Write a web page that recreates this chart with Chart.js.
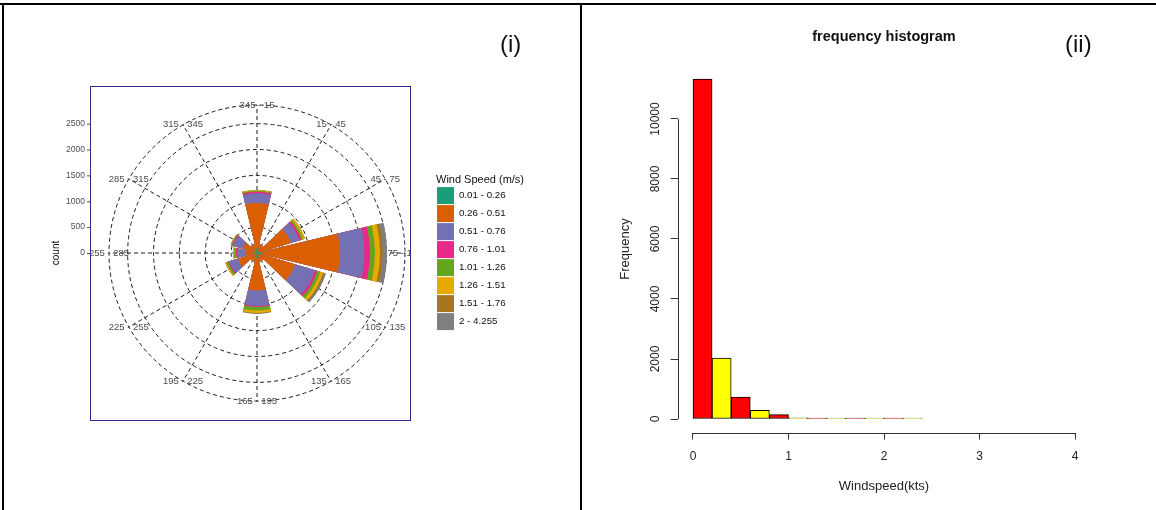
<!DOCTYPE html>
<html>
<head>
<meta charset="utf-8">
<title>wind rose and histogram</title>
<script src="https://cdn.jsdelivr.net/npm/chart.js@4.4.1/dist/chart.umd.min.js"></script>
<style>
  body { margin: 0; background: #fff; }
  #wrap { position: relative; width: 1156px; height: 510px; overflow: hidden; font-family: "Liberation Sans", Arial, sans-serif; }
  canvas { position: absolute; left: 0; top: 0; }
  .rule { position: absolute; background: #000; }
  .tag { position: absolute; font-size: 24px; line-height: 24px; color: #111; }
</style>
</head>
<body>
<div id="wrap">
  <canvas id="rose" width="1156" height="510"></canvas>
  <canvas id="hist" width="1156" height="510"></canvas>
  <div class="rule" style="left:0;top:3px;width:1156px;height:2px"></div>
  <div class="rule" style="left:2px;top:3px;width:2px;height:507px"></div>
  <div class="rule" style="left:580px;top:3px;width:2px;height:507px"></div>
  <span class="tag" style="left:500px;top:32px">(i)</span>
  <span class="tag" style="left:1065px;top:32px">(ii)</span>
</div>
<script>
const FONT = '"Liberation Sans", Arial, sans-serif';

// ---- wind rose (i) ----
const directions = ['345 - 15', '15 - 45', '45 - 75', '75 - 105', '105 - 135', '135 - 165',
  '165 - 195', '195 - 225', '225 - 255', '255 - 285', '285 - 315', '315 - 345'];
const speedBins = ['0.01 - 0.26', '0.26 - 0.51', '0.51 - 0.76', '0.76 - 1.01',
  '1.01 - 1.26', '1.26 - 1.51', '1.51 - 1.76', '2 - 4.255'];
const speedColors = ['#1b9e77', '#d95f02', '#7570b3', '#e7298a', '#66a61e', '#e6ab02', '#a6761d', '#7f7f7f'];

// counts per speed class, one value per direction (N first, clockwise)
const speed1 = [90, 30, 68, 100, 77, 30, 90, 30, 40, 70, 40, 30];
const speed2 = [876, 144, 608, 1504, 686, 144, 635, 144, 346, 162, 250, 144];
const speed3 = [188, 0, 174, 473, 406, 0, 299, 0, 174, 154, 193, 0];
const speed4 = [31, 0, 39, 107, 48, 0, 19, 0, 20, 20, 19, 0];
const speed5 = [17, 0, 39, 96, 58, 0, 68, 0, 38, 38, 20, 0];
const speed6 = [15, 0, 38, 97, 58, 0, 48, 0, 20, 20, 9, 0];
const speed7 = [0, 0, 0, 52, 20, 0, 10, 0, 0, 0, 0, 0];
const speed8 = [0, 0, 0, 83, 38, 0, 10, 0, 0, 0, 0, 0];
const speedCounts = [speed1, speed2, speed3, speed4, speed5, speed6, speed7, speed8];

const countTicks = [0, 500, 1000, 1500, 2000, 2500];
const countMax = 2860;

// ---- histogram (ii) ----
const binStarts = [0, 0.2, 0.4, 0.6, 0.8, 1.0, 1.2, 1.4, 1.6, 1.8, 2.0, 2.2];
const frequency = [11330, 2030, 733, 290, 145, 40, 30, 8, 6, 4, 2, 1];
const binWidth = 0.2;
const xTicks = [0, 1, 2, 3, 4];
const yTicks = [0, 2000, 4000, 6000, 8000, 10000];

// each petal is 27 deg wide inside a 30 deg sector; a zero first slice turns the start back half a petal
const petal = 27;
const arcAngles = [-petal / 2];
directions.forEach((d, i) => {
  if (i > 0) arcAngles.push(30 - petal);
  arcAngles.push(petal);
});

const roseDatasets = speedBins.map((label, k) => {
  const data = [0];
  directions.forEach((d, i) => {
    let total = 0;
    for (let j = 0; j <= k; j++) total += speedCounts[j][i];
    if (i > 0) data.push(0);
    data.push(total);
  });
  return {
    label: label,
    data: data,
    backgroundColor: speedColors[k],
    borderWidth: 0,
    angle: ctx => arcAngles[ctx.dataIndex]
  };
});

const roseAxis = {
  id: 'roseAxis',
  afterLayout(chart) {
    // legend title is wider than the key column
    chart.legend.right = chart.legend.left + 110;
  },
  afterDraw(chart) {
    const r = chart.scales.r;
    const ctx = chart.ctx;
    const l = r.xCenter - 167, rt = r.xCenter + 153, t = r.yCenter - 167, b = r.yCenter + 167;
    const outer = r.getDistanceFromCenterForValue(countMax);

    ctx.save();
    ctx.beginPath();
    ctx.rect(l, t, rt - l, b - t);
    ctx.clip();
    ctx.font = '9.5px ' + FONT;
    ctx.fillStyle = '#4d4d4d';
    ctx.textAlign = 'center';
    ctx.textBaseline = 'middle';
    directions.forEach((lab, i) => {
      const p = r.getPointPosition(i, outer);
      ctx.fillText(lab, p.x, p.y);
    });
    ctx.restore();

    ctx.save();
    ctx.strokeStyle = '#2d2d8f';
    ctx.lineWidth = 1;
    ctx.strokeRect(l + 0.5, t + 0.5, rt - l, b - t);

    ctx.strokeStyle = '#4d4d4d';
    ctx.fillStyle = '#4d4d4d';
    ctx.font = '8.5px ' + FONT;
    ctx.textAlign = 'right';
    ctx.textBaseline = 'middle';
    countTicks.forEach(v => {
      const y = r.yCenter - r.getDistanceFromCenterForValue(v);
      ctx.beginPath();
      ctx.moveTo(l - 3, y + 0.5);
      ctx.lineTo(l, y + 0.5);
      ctx.stroke();
      ctx.fillText(String(v), l - 5, y);
    });

    ctx.translate(56, r.yCenter);
    ctx.rotate(-Math.PI / 2);
    ctx.fillStyle = '#111';
    ctx.font = '10px ' + FONT;
    ctx.textAlign = 'center';
    ctx.fillText('count', 0, 0);
    ctx.restore();
  }
};

const rose = new Chart(document.getElementById('rose'), {
  type: 'polarArea',
  data: { labels: directions, datasets: roseDatasets },
  options: {
    responsive: false,
    animation: false,
    layout: { padding: { left: 78, right: 560, top: 105, bottom: 109 } },
    scales: {
      r: {
        min: 0,
        max: countMax,
        startAngle: 0,
        afterBuildTicks: s => { s.ticks = countTicks.concat([countMax]).map(v => ({ value: v })); },
        ticks: { display: false },
        grid: { circular: true, color: '#1a1a1a', lineWidth: 1, borderDash: [4, 3] },
        border: { dash: [4, 3] },
        angleLines: { display: true, color: '#1a1a1a', lineWidth: 1, borderDash: [4, 3] },
        pointLabels: { display: false }
      }
    },
    plugins: {
      tooltip: { enabled: false },
      legend: {
        position: 'right',
        align: 'center',
        title: { display: true, text: 'Wind Speed (m/s)', position: 'start', color: '#111',
          font: { size: 11, family: FONT }, padding: { top: 0, bottom: -2 } },
        labels: {
          boxWidth: 17,
          boxHeight: 17,
          padding: 1,
          color: '#333',
          font: { size: 9.8, family: FONT },
          generateLabels: chart => chart.data.datasets.map((ds, i) => ({
            text: ds.label, fillStyle: ds.backgroundColor, strokeStyle: ds.backgroundColor,
            lineWidth: 0, hidden: false, datasetIndex: i
          }))
        }
      }
    }
  },
  plugins: [roseAxis]
});
// put the legend where the reference has it
rose.options.layout.padding.right += rose.legend.left - 436;
rose.update();

const histAxis = {
  id: 'histAxis',
  afterDraw(chart) {
    const { x, y } = chart.scales;
    const a = chart.chartArea;
    const ctx = chart.ctx;
    ctx.save();
    ctx.strokeStyle = '#333';
    ctx.lineWidth = 1;
    ctx.beginPath();
    ctx.moveTo(Math.round(a.left) + 0.5, y.getPixelForValue(yTicks[0]));
    ctx.lineTo(Math.round(a.left) + 0.5, y.getPixelForValue(yTicks[yTicks.length - 1]));
    ctx.moveTo(x.getPixelForValue(xTicks[0]), Math.round(a.bottom) + 0.5);
    ctx.lineTo(x.getPixelForValue(xTicks[xTicks.length - 1]), Math.round(a.bottom) + 0.5);
    ctx.stroke();
    ctx.restore();
  }
};

const hist = new Chart(document.getElementById('hist'), {
  type: 'bar',
  data: {
    datasets: [{
      data: binStarts.map((s, i) => ({ x: s + binWidth / 2, y: frequency[i] })),
      backgroundColor: frequency.map((f, i) => i % 2 ? '#ffff00' : '#ff0000'),
      borderColor: '#000',
      borderWidth: 1,
      borderSkipped: false,
      barPercentage: 1,
      categoryPercentage: 1,
      minBarLength: 1
    }]
  },
  options: {
    responsive: false,
    animation: false,
    layout: { padding: { left: 617.7, right: 65.7, top: 28, bottom: 15.4 } },
    plugins: {
      legend: { display: false },
      tooltip: { enabled: false },
      title: {
        display: true, text: 'frequency histogram', fullSize: false, color: '#111',
        font: { size: 14.5, weight: 'bold', family: FONT }, padding: { top: 0, bottom: 20 }
      }
    },
    scales: {
      x: {
        type: 'linear',
        min: -0.16,
        max: 4.16,
        offset: false,
        afterBuildTicks: s => { s.ticks = xTicks.map(v => ({ value: v })); },
        afterFit: s => { s.height = 62; },
        grid: { drawOnChartArea: false, tickLength: 7, color: '#333', offset: false },
        border: { display: false },
        ticks: { font: { size: 12, family: FONT }, color: '#222', padding: 10, maxRotation: 0, callback: v => String(v) },
        title: { display: true, text: 'Windspeed(kts)', color: '#222', font: { size: 13, family: FONT }, padding: 0 }
      },
      y: {
        min: -453,
        max: 11786,
        afterBuildTicks: s => { s.ticks = yTicks.map(v => ({ value: v })); },
        afterFit: s => { s.width = 60; },
        grid: { drawOnChartArea: false, tickLength: 7, color: '#333' },
        border: { display: false },
        ticks: { font: { size: 12, family: FONT }, color: '#222', padding: -2, minRotation: 90, maxRotation: 90,
          crossAlign: 'center', callback: v => String(v) },
        title: { display: true, text: 'Frequency', color: '#222', font: { size: 13, family: FONT }, padding: 0 }
      }
    }
  },
  plugins: [histAxis]
});
</script>
</body>
</html>
